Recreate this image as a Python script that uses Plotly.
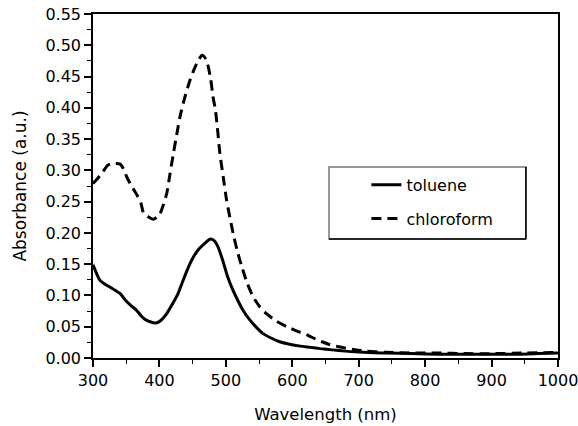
import plotly.graph_objects as go

# ---- data ----
tol_wl = [300, 305, 310, 318, 326, 335, 341, 350, 358, 365, 372, 378, 386, 395, 402,
          411, 420, 428, 436, 444, 452, 460, 468, 476, 482, 488, 495, 502, 510, 518,
          526, 536, 546, 556, 568, 581, 596, 612, 628, 642, 660, 680, 706, 740, 780,
          820, 860, 900, 940, 970, 1000]
tol_abs = [0.149, 0.136, 0.125, 0.118, 0.113, 0.107, 0.103, 0.091, 0.083, 0.077, 0.068,
           0.062, 0.058, 0.056, 0.060, 0.071, 0.087, 0.103, 0.125, 0.146, 0.163, 0.175,
           0.183, 0.190, 0.188, 0.178, 0.157, 0.132, 0.110, 0.092, 0.076, 0.061, 0.049,
           0.039, 0.032, 0.026, 0.022, 0.019, 0.017, 0.015, 0.013, 0.011, 0.009, 0.008,
           0.007, 0.006, 0.006, 0.006, 0.006, 0.007, 0.008]

chl_wl = [300, 307, 315, 322, 328, 334, 341, 346, 351, 358, 366, 372, 376, 383, 391,
          397, 401, 406, 411, 416, 421, 426, 431, 438, 446, 452, 458, 464, 468, 472,
          477, 481, 484, 488, 491, 496, 501, 506, 511, 517, 524, 532, 541, 551, 562,
          576, 592, 607, 622, 636, 645, 655, 670, 690, 710, 740, 780, 820, 860, 900,
          950, 1000]
chl_abs = [0.279, 0.287, 0.298, 0.308, 0.311, 0.311, 0.310, 0.302, 0.289, 0.275, 0.261,
           0.248, 0.232, 0.226, 0.222, 0.226, 0.231, 0.245, 0.263, 0.295, 0.327, 0.357,
           0.386, 0.416, 0.444, 0.461, 0.475, 0.484, 0.481, 0.472, 0.447, 0.415, 0.399,
           0.360, 0.327, 0.290, 0.253, 0.225, 0.199, 0.172, 0.146, 0.120, 0.098, 0.082,
           0.070, 0.059, 0.050, 0.043, 0.037, 0.030, 0.026, 0.022, 0.018, 0.014, 0.011,
           0.009, 0.008, 0.008, 0.007, 0.007, 0.008, 0.009]

series_names = ["toluene", "chloroform"]
x_title = "Wavelength (nm)"
y_title = "Absorbance (a.u.)"

FONT = "DejaVu Sans"

fig = go.Figure()
fig.add_trace(go.Scatter(x=tol_wl, y=tol_abs, mode="lines", name=series_names[0],
                         legendgroup="a",
                         line=dict(color="black", width=3, shape="spline", smoothing=0.6)))
fig.add_trace(go.Scatter(x=chl_wl, y=chl_abs, mode="lines", name=series_names[1],
                         legendgroup="b",
                         line=dict(color="black", width=3, dash="10px,6px",
                                   shape="spline", smoothing=0.6)))

axis_common = dict(showline=True, linecolor="black", linewidth=1.5, mirror=True,
                   ticks="outside", ticklen=7, tickwidth=1.5, tickcolor="black",
                   showgrid=False, zeroline=False, automargin=False,
                   ticklabeloverflow="allow",
                   tickfont=dict(family=FONT, size=16, color="black"))

fig.update_xaxes(range=[300, 1000], dtick=100, tick0=300,
                 minor=dict(ticks="outside", ticklen=4, dtick=50, tickcolor="black", tickwidth=1.2),
                 title=dict(text=x_title, font=dict(family=FONT, size=16.5, color="black"), standoff=19),
                 **axis_common)
fig.update_yaxes(range=[0, 0.55], dtick=0.05, tick0=0, tickformat=".2f",
                 minor=dict(ticks="outside", ticklen=4, dtick=0.025, tickcolor="black", tickwidth=1.2),
                 title=dict(text=y_title, font=dict(family=FONT, size=17, color="black"), standoff=14),
                 **axis_common)

# legend frame
fig.add_shape(type="rect", xref="paper", yref="paper", x0=0.5075, x1=0.931, y0=0.346, y1=0.555,
              line=dict(color="#777777", width=1.5), fillcolor="white", layer="below")
fig.add_shape(type="line", xref="paper", yref="paper", x0=0.5075, x1=0.931, y0=0.346, y1=0.346,
              line=dict(color="black", width=1.5))
fig.add_shape(type="line", xref="paper", yref="paper", x0=0.931, x1=0.931, y0=0.346, y1=0.555,
              line=dict(color="black", width=1.5))

fig.update_layout(
    width=578, height=426,
    margin=dict(l=93, r=20, t=14, b=68),
    paper_bgcolor="white", plot_bgcolor="white",
    font=dict(family=FONT, size=15, color="black"),
    showlegend=True,
    legend=dict(x=0.588, y=0.553, xanchor="left", yanchor="top",
                bgcolor="rgba(0,0,0,0)", borderwidth=0,
                tracegroupgap=10,
                font=dict(family=FONT, size=16, color="black")),
)

fig.write_html("out.html")
